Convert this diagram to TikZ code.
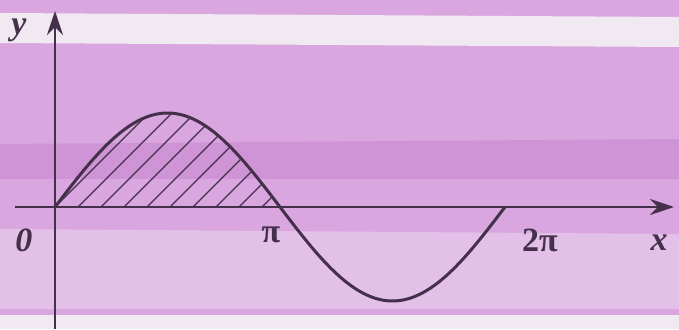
\documentclass[tikz,border=0pt]{standalone}
\usepackage{fontspec}
\setmainfont{Liberation Serif}
\usetikzlibrary{arrows.meta,patterns}
\definecolor{bgpurple}{HTML}{D9A6DF}
\definecolor{bgdark}{HTML}{CF94D6}
\definecolor{bglight}{HTML}{E3C0E8}
\definecolor{bgwhite}{HTML}{F1E9F1}
\definecolor{ink}{HTML}{45304C}
\tikzset{
  axis/.style={ink, line width=2.6pt, -{Stealth[length=24pt,width=16pt]}},
  curve/.style={ink, line width=3pt},
  hatchline/.style={ink, line width=1.2pt},
  lbl/.style={ink, font=\fontsize{34}{34}\selectfont\bfseries\itshape, inner sep=0pt},
  lblr/.style={ink, font=\fontsize{34}{34}\selectfont\bfseries, inner sep=0pt}
}
\begin{document}
\begin{tikzpicture}[x=1pt,y=1pt]
\useasboundingbox (0,0) rectangle (679,329);
% background washes
\fill[bgpurple] (0,0) rectangle (679,329);
\fill[bgwhite] (0,316) -- (679,312) -- (679,282) -- (0,286) -- cycle;
\fill[bgdark] (0,185) -- (679,190) -- (679,150) -- (0,150) -- cycle;
\fill[bglight] (0,100) -- (679,95) -- (679,20) -- (0,20) -- cycle;
\fill[bgwhite] (0,0) rectangle (679,14);
% coordinates
\coordinate (O) at (55,122);
\coordinate (xs) at (15,122);
\coordinate (xe) at (674,122);
\coordinate (ys) at (55,0);
\coordinate (ye) at (55,318);
% hatch
\begin{scope}
\clip[domain=0:180,samples=60] plot ({55+\x*1.25},{122+94*sin(\x)}) -- cycle;
\foreach \k in {-12,...,12}{
  \draw[hatchline] ({55+\k*23},122) -- ++(130,130);
}
\end{scope}
% axes
\draw[axis] (xs) -- (xe);
\draw[axis] (ys) -- (ye);
% curve
\draw[curve,domain=0:360,samples=120] plot ({55+\x*1.25},{122+94*sin(\x)});
% labels
\node[lbl] (ly) at (19,299) {y};
\node[lbl] (l0) at (24,89) {0};
\node[lblr] (lpi) at (271,94) {π};
\node[lblr] (l2pi) at (540,89) {2π};
\node[lbl] (lx) at (659,86) {x};
\end{tikzpicture}
\end{document}
